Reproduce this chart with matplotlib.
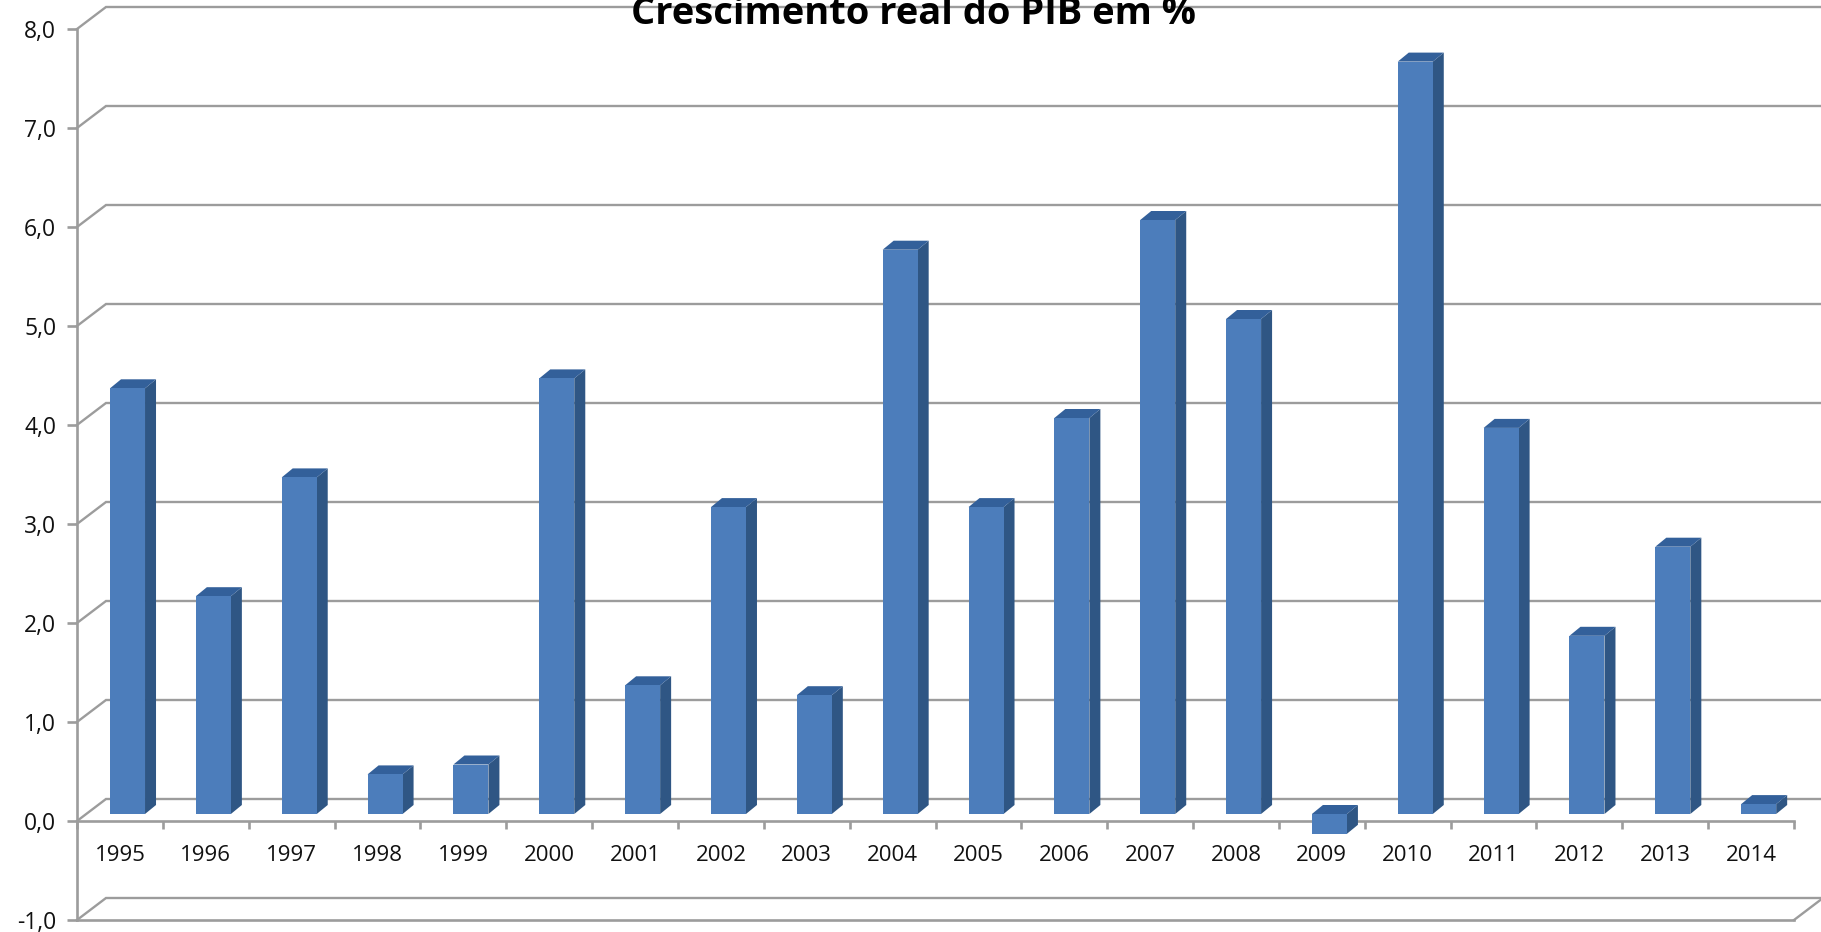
import numpy as np
import matplotlib
matplotlib.use("Agg")
import matplotlib.pyplot as plt
from matplotlib.patches import Polygon

years = [str(y) for y in range(1995, 2015)]
growth = [4.3, 2.2, 3.4, 0.4, 0.5, 4.4, 1.3, 3.1, 1.2, 5.7,
          3.1, 4.0, 6.0, 5.0, -0.2, 7.6, 3.9, 1.8, 2.7, 0.1]
y_values = list(range(-1, 9))
y_labels = ["-1,0", "0,0", "1,0", "2,0", "3,0", "4,0", "5,0", "6,0", "7,0", "8,0"]
title = "Crescimento real do PIB em %"

W, H = 1821, 932
L, R, T, B = 77, 1794, 29, 920
px_x = (R - L) / 20
px_y = (B - T) / 9

GRID = "#9c9c9c"
FRONT, SIDE, TOP = "#4c7dbb", "#2f5684", "#33609a"
FONT = "Open Sans"

fig = plt.figure(figsize=(W / 100, H / 100), dpi=100, facecolor="white")
ax = fig.add_axes([L / W, 1 - B / H, (R - L) / W, (B - T) / H])
ax.set_xlim(0, 20)
ax.set_ylim(-1, 8)
ax.patch.set_visible(False)

# back wall lines
wall_dx, wall_dy = 29 / px_x, 22 / px_y
edge = (W - L) / px_x
for v in y_values:
    ax.plot([0, wall_dx, edge], [v, v + wall_dy, v + wall_dy], color=GRID, lw=1.7,
            clip_on=False, zorder=1, solid_joinstyle="miter")
ax.plot([20, 20 + wall_dx], [-1, -1 + wall_dy], color=GRID, lw=1.7, clip_on=False, zorder=1)

# axes
for s in ("top", "right"):
    ax.spines[s].set_visible(False)
ax.spines["bottom"].set_position(("data", 0))
for s in ("left", "bottom"):
    ax.spines[s].set_color(GRID)
    ax.spines[s].set_linewidth(1.9)
    ax.spines[s].set_zorder(2)
ax.plot([0, 20], [-1, -1], color=GRID, lw=1.9, clip_on=False, zorder=2)

ax.set_yticks(y_values, y_labels)
ax.tick_params(axis="y", length=7, width=1.9, color=GRID, pad=8, labelsize=16.5,
               labelcolor="#111111")
centers = np.arange(20) + 0.5
ax.set_xticks(np.arange(21), [""] * 21)
ax.set_xticks(centers, years, minor=True)
ax.tick_params(axis="x", which="major", length=6, width=1.9, color=GRID)
ax.tick_params(axis="x", which="minor", length=0, pad=17, labelsize=16,
               labelcolor="#111111")
for lab in ax.get_xticklabels(minor=True) + ax.get_yticklabels():
    lab.set_fontfamily(FONT)

# 3-D bars
bw = 35 / px_x
off_x, off_y = 7.6 / px_x, 7 / px_y
dep_x, dep_y = 11 / px_x, 9 / px_y
xs = centers + off_x
ax.bar(xs, growth, width=bw, bottom=off_y, color=FRONT, zorder=4, clip_on=False)
for x, v in zip(xs, growth):
    x0, x1 = x - bw / 2, x + bw / 2
    lo, hi = off_y + min(v, 0), off_y + max(v, 0)
    ax.add_patch(Polygon([(x1, lo), (x1 + dep_x, lo + dep_y), (x1 + dep_x, hi + dep_y), (x1, hi)],
                         closed=True, fc=SIDE, ec="none", zorder=3, clip_on=False))
    ax.add_patch(Polygon([(x0, hi), (x0 + dep_x, hi + dep_y), (x1 + dep_x, hi + dep_y), (x1, hi)],
                         closed=True, fc=TOP, ec="none", zorder=3, clip_on=False))

fig.text(913 / W, 1 - 24 / H, title, ha="center", va="baseline", fontsize=27.4,
         fontweight="bold", family=FONT, color="black", zorder=10)

fig.savefig("out.png", dpi=100, facecolor="white")
